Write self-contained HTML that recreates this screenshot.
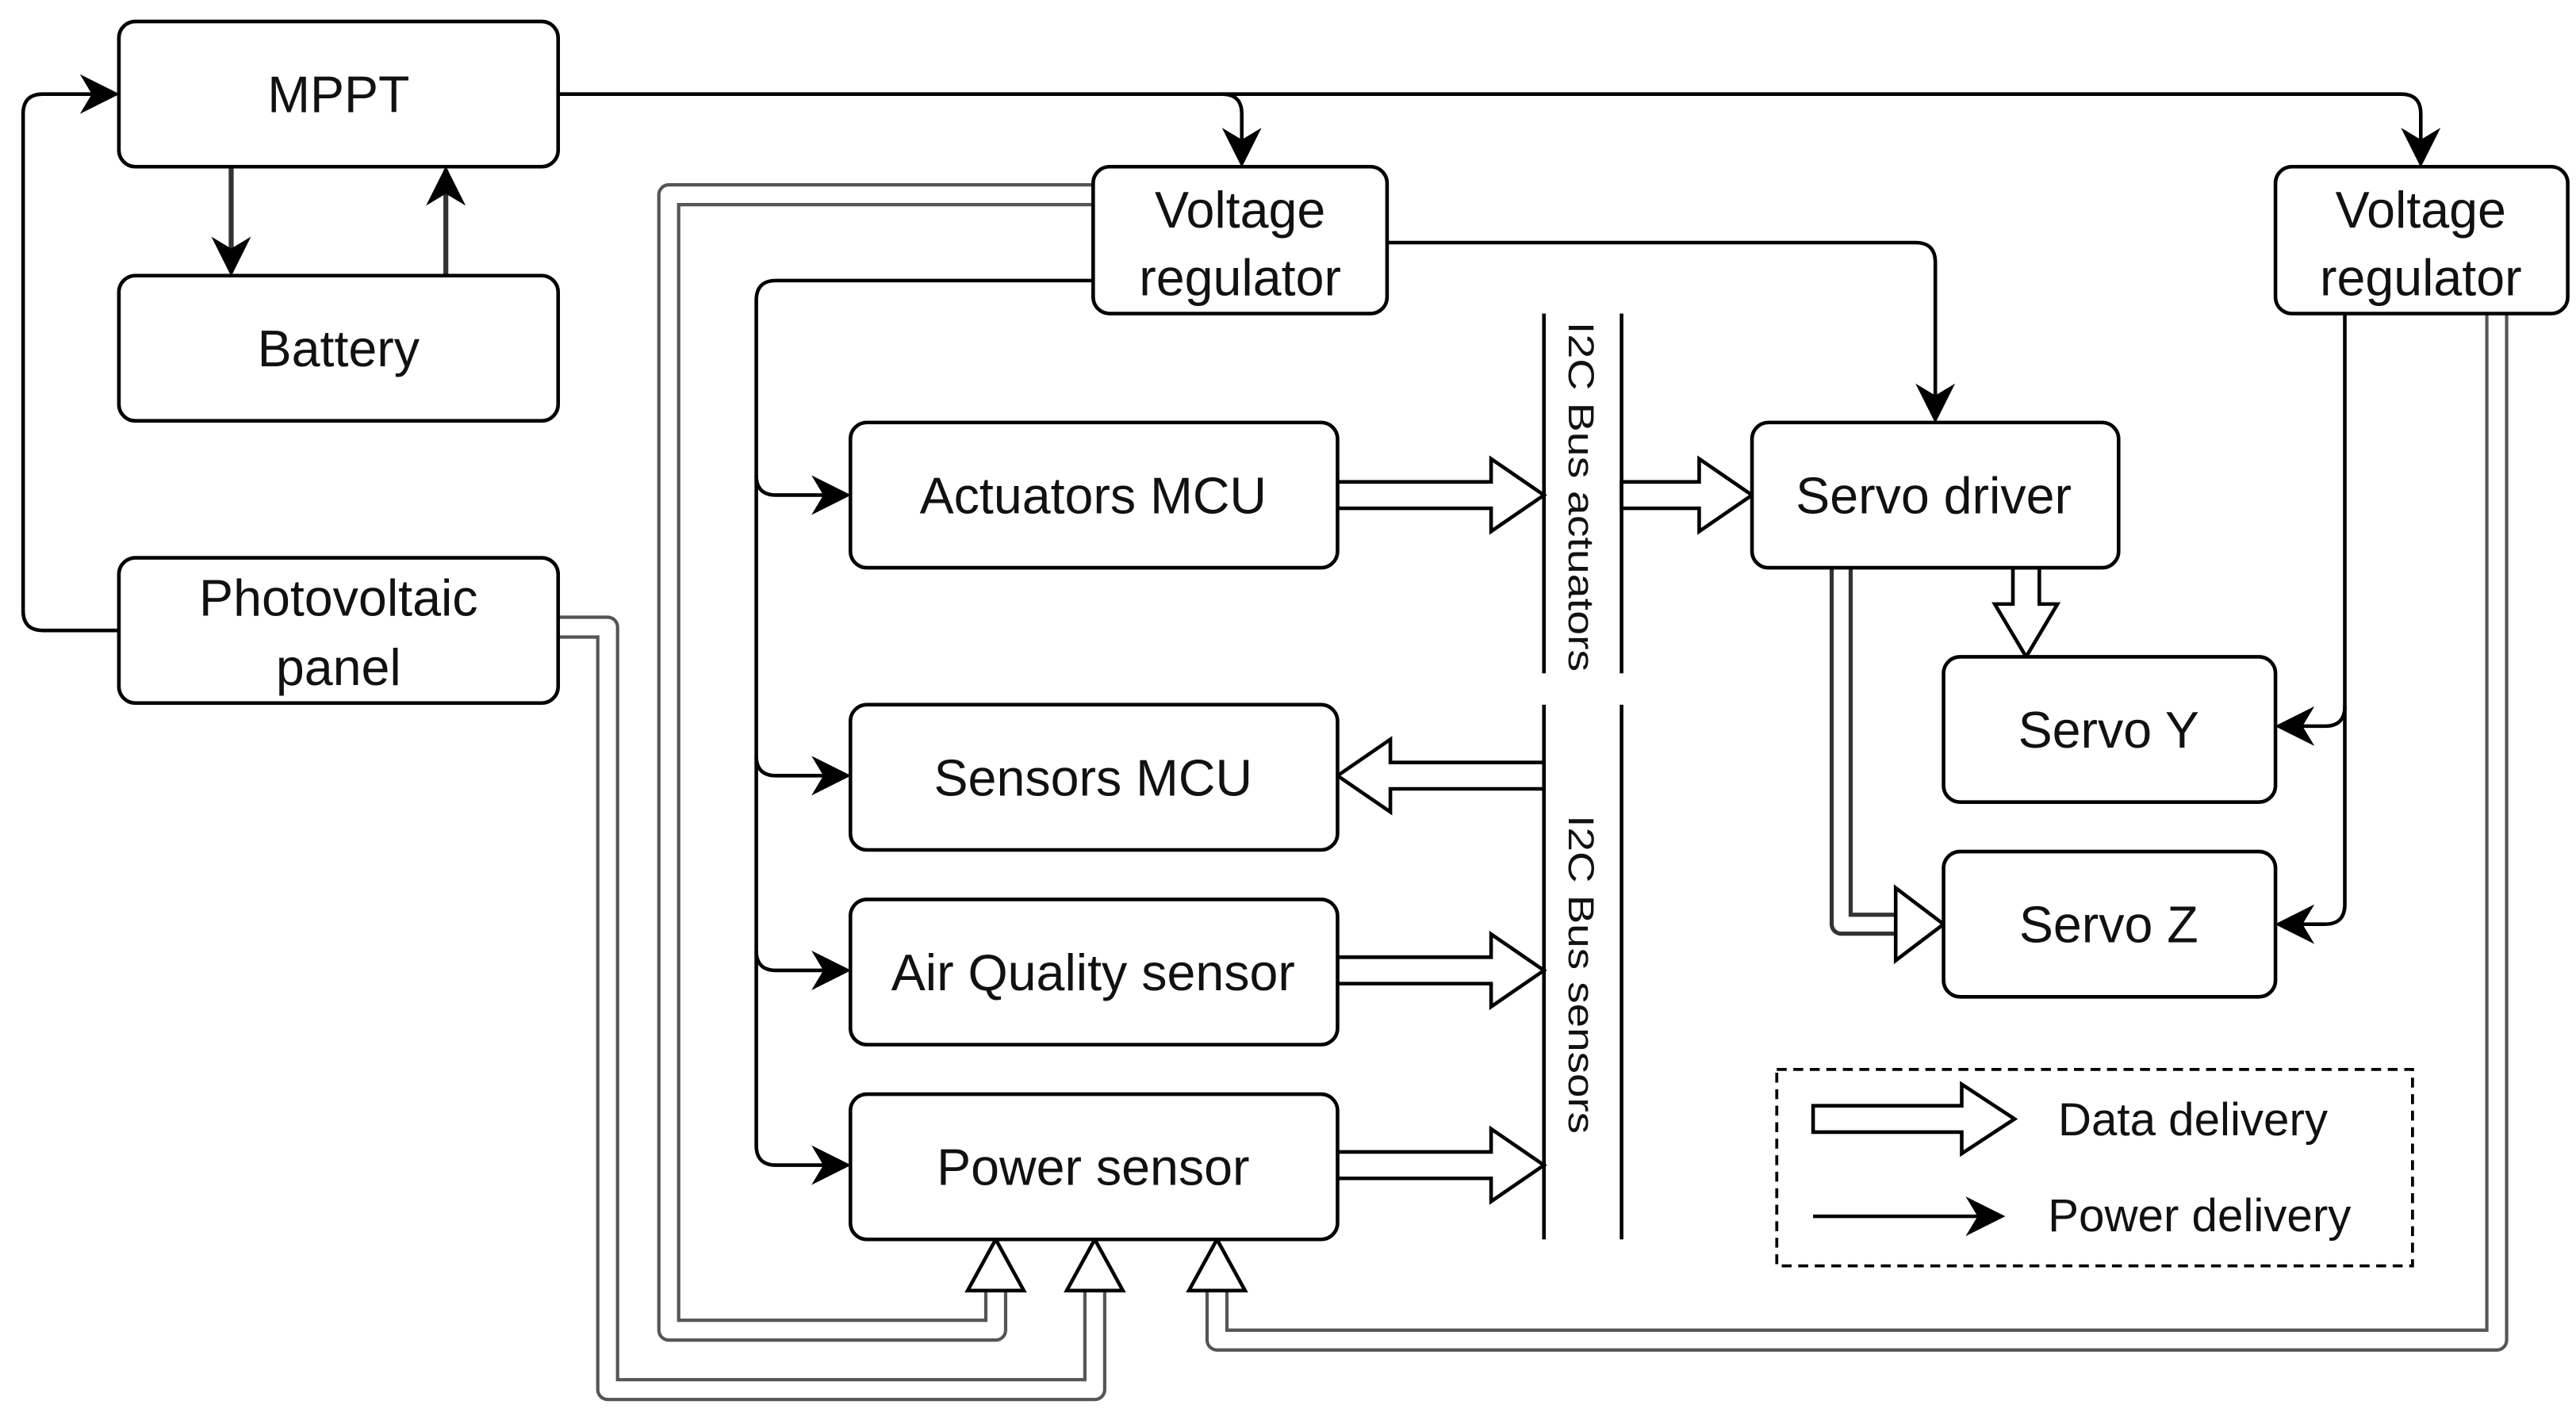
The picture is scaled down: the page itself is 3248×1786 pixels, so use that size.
<!DOCTYPE html>
<html><head><meta charset="utf-8"><style>html,body{margin:0;padding:0;background:#fff}svg{display:block}</style></head>
<body>
<svg width="3248" height="1786" viewBox="0 0 1560 858" preserveAspectRatio="none" xmlns="http://www.w3.org/2000/svg" font-family="Liberation Sans, sans-serif">
<defs>
<marker id="ahL" viewBox="0 0 10 10" refX="9" refY="5" markerWidth="24" markerHeight="24" markerUnits="userSpaceOnUse" orient="auto">
<path d="M0,0 L10,5 L0,10 L3,5 Z" fill="#000"/></marker>
</defs>
<g fill="none" stroke="#000" stroke-width="2.2">
<path d="M338,57 H740 Q752,57 752,69 V99" marker-end="url(#ahL)"/>
<path d="M740,57 H1454 Q1466,57 1466,69 V99" marker-end="url(#ahL)"/>
<path d="M140,101 V165" marker-end="url(#ahL)" stroke="#333" stroke-width="3"/>
<path d="M270,167 V103" marker-end="url(#ahL)" stroke="#333" stroke-width="3"/>
<path d="M72,382 H26 Q14,382 14,370 V69 Q14,57 26,57 H70" marker-end="url(#ahL)"/>
<path d="M840,147 H1160 Q1172,147 1172,159 V254" marker-end="url(#ahL)"/>
<path d="M662,170 H470 Q458,170 458,182 V694 Q458,706 470,706 H513" marker-end="url(#ahL)"/>
<path d="M458,288 Q458,300 470,300 H513" marker-end="url(#ahL)"/>
<path d="M458,458 Q458,470 470,470 H513" marker-end="url(#ahL)"/>
<path d="M458,576 Q458,588 470,588 H513" marker-end="url(#ahL)"/>
<path d="M1420,190 V548 Q1420,560 1408,560 H1380" marker-end="url(#ahL)"/>
<path d="M1420,428 Q1420,440 1408,440 H1380" marker-end="url(#ahL)"/>
<path d="M935,190 V408 M982,190 V408 M935,427 V751 M982,427 V751"/>
</g>
<g fill="none" stroke-linejoin="round">
<path d="M662,118 H405 V806 H603 V780" stroke="#555" stroke-width="14"/>
<path d="M662,118 H405 V806 H603 V780" stroke="#fff" stroke-width="10"/>
<path d="M338,380 H368 V842 H663 V780" stroke="#555" stroke-width="14"/>
<path d="M338,380 H368 V842 H663 V780" stroke="#fff" stroke-width="10"/>
<path d="M1512,190 V812 H737 V780" stroke="#555" stroke-width="14"/>
<path d="M1512,190 V812 H737 V780" stroke="#fff" stroke-width="10"/>
<path d="M1115,344 V560 H1150" stroke="#333" stroke-width="14"/>
<path d="M1115,344 V560 H1150" stroke="#fff" stroke-width="9"/>
</g>
<g fill="#fff" stroke="#000" stroke-width="2.2">
<polygon points="603,751 620,782 609,782 597,782 586,782"/>
<polygon points="663,751 680,782 669,782 657,782 646,782"/>
<polygon points="737,751 754,782 743,782 731,782 720,782"/>
<polygon points="1177,560 1148,538 1148,582"/>
<polygon points="810,292 903,292 903,278 935,300 903,322 903,308 810,308"/>
<polygon points="982,292 1029,292 1029,278 1061,300 1029,322 1029,308 982,308"/>
<polygon points="935,462 842,462 842,448 810,470 842,492 842,478 935,478"/>
<polygon points="810,580 903,580 903,566 935,588 903,610 903,596 810,596"/>
<polygon points="810,698 903,698 903,684 935,706 903,728 903,714 810,714"/>
<polygon points="1219,344 1235,344 1235,366 1246,366 1227,398 1208,366 1219,366"/>
<rect x="72" y="13" width="266" height="88" rx="10"/>
<rect x="72" y="167" width="266" height="88" rx="10"/>
<rect x="72" y="338" width="266" height="88" rx="10"/>
<rect x="662" y="101" width="178" height="89" rx="10"/>
<rect x="1378" y="101" width="177" height="89" rx="10"/>
<rect x="515" y="256" width="295" height="88" rx="10"/>
<rect x="515" y="427" width="295" height="88" rx="10"/>
<rect x="515" y="545" width="295" height="88" rx="10"/>
<rect x="515" y="663" width="295" height="88" rx="10"/>
<rect x="1061" y="256" width="222" height="88" rx="10"/>
<rect x="1177" y="398" width="201" height="88" rx="10"/>
<rect x="1177" y="516" width="201" height="88" rx="10"/>
<rect x="1076" y="648" width="385" height="119" fill="none" stroke-dasharray="6,4" stroke-width="1.8"/>
<polygon points="1098,670 1188,670 1188,657 1220,678 1188,699 1188,686 1098,686"/>
</g>
<path d="M1098,737 H1212" stroke="#000" stroke-width="2.2" marker-end="url(#ahL)"/>
<g font-size="31" text-anchor="middle" fill="#111">
<text x="205" y="68">MPPT</text>
<text x="205" y="222">Battery</text>
<text x="205" y="373">Photovoltaic</text>
<text x="205" y="415">panel</text>
<text x="751" y="138">Voltage</text>
<text x="751" y="179">regulator</text>
<text x="1466" y="138">Voltage</text>
<text x="1466" y="179">regulator</text>
<text x="662" y="311">Actuators MCU</text>
<text x="662" y="482">Sensors MCU</text>
<text x="662" y="600">Air Quality sensor</text>
<text x="662" y="718">Power sensor</text>
<text x="1171" y="311">Servo driver</text>
<text x="1277" y="453">Servo Y</text>
<text x="1277" y="571">Servo Z</text>
<text x="1328" y="688" font-size="28">Data delivery</text>
<text x="1332" y="746" font-size="28">Power delivery</text>
</g>
<g font-size="22" fill="#111">
<text transform="translate(950,195) rotate(90)" textLength="212" lengthAdjust="spacingAndGlyphs">I2C Bus actuators</text>
<text transform="translate(950,494) rotate(90)" textLength="193" lengthAdjust="spacingAndGlyphs">I2C Bus sensors</text>
</g>
</svg>
</body></html>
